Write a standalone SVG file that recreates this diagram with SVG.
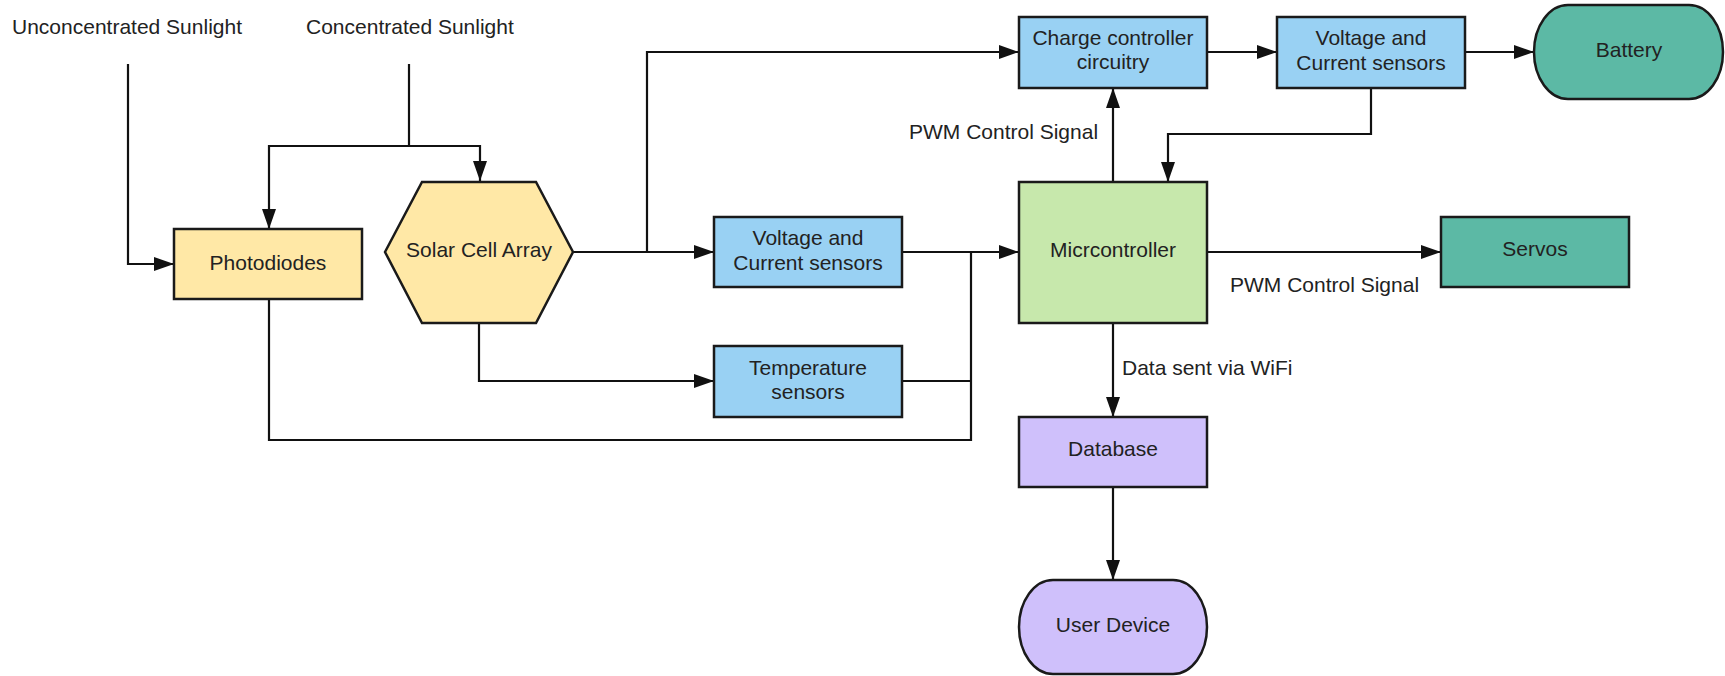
<svg xmlns="http://www.w3.org/2000/svg" width="1725" height="676" viewBox="0 0 1725 676">
<style>
text{font-family:"Liberation Sans",Arial,sans-serif;font-size:21px;fill:#222}
.c{text-anchor:middle}
.n{stroke:#1a1a1a;stroke-width:2.5}
.yel{fill:#FFE8A6}.blu{fill:#99D1F3}.grn{fill:#C7E8AC}.tea{fill:#5CB9A5}.pur{fill:#CFC0FB}
.e{fill:none;stroke:#111;stroke-width:2.2}
.a{marker-end:url(#ah)}
</style>
<defs>
<marker id="ah" markerUnits="userSpaceOnUse" markerWidth="20" markerHeight="14" refX="20" refY="7" orient="auto">
<path d="M0,0 L20,7 L0,14 z" fill="#111"/>
</marker>
</defs>
<rect width="1725" height="676" fill="#fff"/>
<g id="labels">
<text x="12" y="34">Unconcentrated Sunlight</text>
<text x="306" y="34">Concentrated Sunlight</text>
<text x="909" y="139">PWM Control Signal</text>
<text x="1230" y="292">PWM Control Signal</text>
<text x="1122" y="375">Data sent via WiFi</text>
</g>
<g id="connectors">
<path class="e a" d="M128,64 V264 H174"/>
<path class="e" d="M409,64 V146"/>
<path class="e a" d="M409,146 H269 V229"/>
<path class="e a" d="M409,146 H480 V181"/>
<path class="e a" d="M573,252 H714"/>
<path class="e a" d="M647,252 V52 H1019"/>
<path class="e a" d="M902,252 H1019"/>
<path class="e" d="M971,252 V440 H269 V299"/>
<path class="e a" d="M479,323 V381 H714"/>
<path class="e" d="M902,381 H971"/>
<path class="e a" d="M1113,182 V88"/>
<path class="e a" d="M1207,52 H1277"/>
<path class="e a" d="M1465,52 H1534"/>
<path class="e a" d="M1371,88 V134 H1168 V182"/>
<path class="e a" d="M1207,252 H1441"/>
<path class="e a" d="M1113,323 V417"/>
<path class="e a" d="M1113,487 V580"/>
</g>
<g id="photodiodes">
<rect class="n yel" x="174" y="229" width="188" height="70"/>
<text class="c" x="268" y="270">Photodiodes</text>
</g>
<g id="solar-cell-array">
<polygon class="n yel" points="385,252 422,182 536,182 573,252 536,323 422,323"/>
<text class="c" x="479" y="257">Solar Cell Array</text>
</g>
<g id="vc-sensors-1">
<rect class="n blu" x="714" y="217" width="188" height="70"/>
<text class="c" x="808" y="245">Voltage and</text>
<text class="c" x="808" y="270">Current sensors</text>
</g>
<g id="temperature-sensors">
<rect class="n blu" x="714" y="346" width="188" height="71"/>
<text class="c" x="808" y="375">Temperature</text>
<text class="c" x="808" y="399">sensors</text>
</g>
<g id="charge-controller">
<rect class="n blu" x="1019" y="17" width="188" height="71"/>
<text class="c" x="1113" y="45">Charge controller</text>
<text class="c" x="1113" y="69">circuitry</text>
</g>
<g id="vc-sensors-2">
<rect class="n blu" x="1277" y="17" width="188" height="71"/>
<text class="c" x="1371" y="45">Voltage and</text>
<text class="c" x="1371" y="70">Current sensors</text>
</g>
<g id="battery">
<rect class="n tea" x="1534" y="5" width="189" height="94" rx="34" ry="47"/>
<text class="c" x="1629" y="57">Battery</text>
</g>
<g id="microcontroller">
<rect class="n grn" x="1019" y="182" width="188" height="141"/>
<text class="c" x="1113" y="257">Micrcontroller</text>
</g>
<g id="servos">
<rect class="n tea" x="1441" y="217" width="188" height="70"/>
<text class="c" x="1535" y="256">Servos</text>
</g>
<g id="database">
<rect class="n pur" x="1019" y="417" width="188" height="70"/>
<text class="c" x="1113" y="456">Database</text>
</g>
<g id="user-device">
<rect class="n pur" x="1019" y="580" width="188" height="94" rx="34" ry="47"/>
<text class="c" x="1113" y="632">User Device</text>
</g>
</svg>
